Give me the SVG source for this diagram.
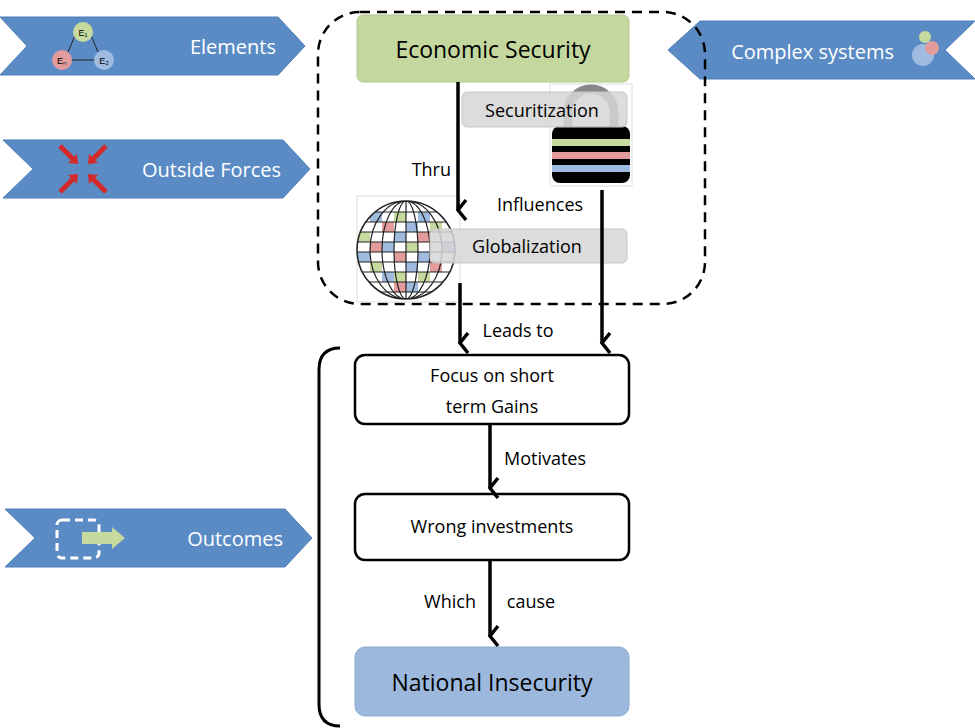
<svg xmlns="http://www.w3.org/2000/svg" width="975" height="728" viewBox="0 0 975 728">
<style>
.chev{fill:#5b8bc4;stroke:#4f7fb8;stroke-width:1}
.ct{font-family:"Open Sans","Liberation Sans",sans-serif;font-size:20px;fill:#fff}
.t{font-family:"Open Sans","Liberation Sans",sans-serif;font-size:18px;fill:#000}
.box{fill:#fff;stroke:#000;stroke-width:2.5}
.conn{stroke:#000;stroke-width:3.5;fill:none}
.lbl{fill:#d6d6d6;fill-opacity:0.85;stroke:#c8c8c8}
</style>
<defs>
<marker id="ah" markerWidth="10" markerHeight="10" refX="5" refY="8" orient="auto" markerUnits="userSpaceOnUse" viewBox="0 0 10 10" overflow="visible">
<polyline points="-5,0 5,8 15,0" transform="translate(0,0)" fill="none" stroke="#000" stroke-width="3.5"/>
</marker>
</defs>
<rect width="975" height="728" fill="#fff"/>

<g id="elements">
<polygon class="chev" points="0,17 278,17 305,46 278,75 0,75 27,46"/>
<line x1="76" y1="33" x2="68" y2="52" stroke="#222" stroke-width="1"/>
<line x1="90" y1="33" x2="98" y2="52" stroke="#222" stroke-width="1"/>
<line x1="70" y1="60" x2="96" y2="60" stroke="#222" stroke-width="1"/>
<circle cx="83" cy="32" r="10" fill="#c6da9f"/><text x="83" y="36" font-family="Liberation Sans,sans-serif" font-size="9" text-anchor="middle">E₁</text>
<circle cx="62" cy="60" r="10" fill="#e39b9b"/><text x="62" y="64" font-family="Liberation Sans,sans-serif" font-size="9" text-anchor="middle">Eₙ</text>
<circle cx="104" cy="60" r="10" fill="#9fbbe0"/><text x="104" y="64" font-family="Liberation Sans,sans-serif" font-size="9" text-anchor="middle">E₂</text>
<text class="ct" x="276" y="54" text-anchor="end">Elements</text>
</g>

<g id="outside-forces">
<polygon class="chev" points="3,140 283,140 310,169 283,198 3,198 33,169"/>
<g stroke="#d42a2a" stroke-width="5">
<line x1="60" y1="146" x2="74" y2="160"/><line x1="106" y1="146" x2="92" y2="160"/>
<line x1="60" y1="192" x2="74" y2="178"/><line x1="106" y1="192" x2="92" y2="178"/>
</g>
<g fill="#d42a2a">
<polygon points="78,164 68,163 77,154"/><polygon points="88,164 98,163 89,154"/>
<polygon points="78,174 68,175 77,184"/><polygon points="88,174 98,175 89,184"/>
</g>
<text class="ct" x="281" y="177" text-anchor="end">Outside Forces</text>
</g>

<g id="complex-systems">
<polygon class="chev" points="975,21 700,21 668,50 700,79 975,79 945,50"/>
<circle cx="923" cy="55" r="11" fill="#9fbbe0"/>
<circle cx="932" cy="48" r="7" fill="#e39b9b"/>
<circle cx="925" cy="37" r="6" fill="#c6da9f"/>
<text class="ct" x="894" y="59" text-anchor="end">Complex systems</text>
</g>

<g id="outcomes">
<polygon class="chev" points="5,509 285,509 312,538 285,567 5,567 35,538"/>
<rect x="57" y="520" width="42" height="38" rx="5" fill="none" stroke="#fff" stroke-width="3" stroke-dasharray="8,5"/>
<polygon points="82,532 112,532 112,527 125,538 112,549 112,544 82,544" fill="#c6da9f"/>
<text class="ct" x="283" y="546" text-anchor="end">Outcomes</text>
</g>

<rect x="318" y="12" width="387" height="292" rx="42" fill="none" stroke="#000" stroke-width="2.5" stroke-dasharray="10,7"/>

<g id="economic-security">
<rect x="357" y="15" width="272" height="67" rx="6" fill="#c4d79e" stroke="#b5c98f"/>
<text x="493" y="58" text-anchor="middle" font-family="Open Sans,Liberation Sans,sans-serif" font-size="23">Economic Security</text>
</g>

<g id="lock">
<rect x="550" y="84" width="82" height="102" fill="#fff" stroke="#ddd"/>
<path d="M568,132 V112 A23,23 0 0 1 614,112 V132" fill="none" stroke="#888" stroke-width="9"/>
<rect x="552" y="126" width="78" height="57" rx="8" fill="#000"/>
<rect x="552" y="139" width="78" height="7" fill="#c6da9f"/>
<rect x="552" y="152" width="78" height="7" fill="#e39b9b"/>
<rect x="552" y="165" width="78" height="7" fill="#9fbbe0"/>
</g>

<g id="securitization">
<rect class="lbl" x="462" y="92" width="165" height="35" rx="5"/>
<text class="t" x="542" y="117" text-anchor="middle">Securitization</text>
</g>

<g id="globe">
<rect x="357" y="196" width="103" height="106" fill="#fff" stroke="#ddd"/>
<clipPath id="gc"><circle cx="406" cy="250" r="49"/></clipPath>
<g clip-path="url(#gc)">
<rect x="357" y="200" width="100" height="100" fill="#fff"/>
<rect x="370" y="212" width="12" height="10" fill="#9fbbe0"/><rect x="394" y="212" width="12" height="10" fill="#c6da9f"/><rect x="418" y="212" width="12" height="10" fill="#9fbbe0"/>
<rect x="382" y="222" width="12" height="10" fill="#e39b9b"/><rect x="406" y="222" width="12" height="10" fill="#9fbbe0"/><rect x="430" y="222" width="12" height="10" fill="#c6da9f"/>
<rect x="358" y="232" width="12" height="10" fill="#c6da9f"/><rect x="394" y="232" width="12" height="10" fill="#9fbbe0"/><rect x="418" y="232" width="12" height="10" fill="#e39b9b"/>
<rect x="370" y="242" width="12" height="10" fill="#e39b9b"/><rect x="382" y="242" width="12" height="10" fill="#9fbbe0"/><rect x="406" y="242" width="12" height="10" fill="#c6da9f"/><rect x="442" y="242" width="12" height="10" fill="#9fbbe0"/>
<rect x="358" y="252" width="12" height="10" fill="#9fbbe0"/><rect x="394" y="252" width="12" height="10" fill="#e39b9b"/><rect x="418" y="252" width="12" height="10" fill="#9fbbe0"/>
<rect x="370" y="262" width="12" height="10" fill="#c6da9f"/><rect x="406" y="262" width="12" height="10" fill="#9fbbe0"/><rect x="430" y="262" width="12" height="10" fill="#e39b9b"/>
<rect x="382" y="272" width="12" height="10" fill="#9fbbe0"/><rect x="394" y="272" width="12" height="10" fill="#c6da9f"/><rect x="418" y="272" width="12" height="10" fill="#c6da9f"/>
<rect x="394" y="282" width="12" height="10" fill="#e39b9b"/><rect x="406" y="282" width="12" height="10" fill="#9fbbe0"/>
<g stroke="#222" stroke-width="1.2" fill="none">
<line x1="350" y1="212" x2="460" y2="212"/><line x1="350" y1="222" x2="460" y2="222"/><line x1="350" y1="232" x2="460" y2="232"/><line x1="350" y1="242" x2="460" y2="242"/><line x1="350" y1="252" x2="460" y2="252"/><line x1="350" y1="262" x2="460" y2="262"/><line x1="350" y1="272" x2="460" y2="272"/><line x1="350" y1="282" x2="460" y2="282"/><line x1="350" y1="292" x2="460" y2="292"/>
<line x1="406" y1="200" x2="406" y2="300"/>
<ellipse cx="406" cy="250" rx="12" ry="49"/><ellipse cx="406" cy="250" rx="24" ry="49"/><ellipse cx="406" cy="250" rx="36" ry="49"/>
</g>
</g>
<circle cx="406" cy="250" r="49" fill="none" stroke="#222" stroke-width="1.5"/>
</g>

<g id="globalization">
<rect class="lbl" x="430" y="229" width="197" height="34" rx="5"/>
<text class="t" x="527" y="253" text-anchor="middle">Globalization</text>
</g>

<g id="focus">
<rect class="box" x="355" y="355" width="274" height="69" rx="10"/>
<text class="t" x="492" y="382" text-anchor="middle">Focus on short</text>
<text class="t" x="492" y="413" text-anchor="middle">term Gains</text>
</g>
<g id="wrong-investments">
<rect class="box" x="355" y="494" width="274" height="66" rx="10"/>
<text class="t" x="492" y="533" text-anchor="middle">Wrong investments</text>
</g>
<g id="national-insecurity">
<rect x="355" y="647" width="274" height="69" rx="10" fill="#9cb9dd" stroke="#8eaad0"/>
<text x="492" y="691" text-anchor="middle" font-family="Open Sans,Liberation Sans,sans-serif" font-size="23">National Insecurity</text>
</g>

<g id="connectors">
<line class="conn" x1="458" y1="82" x2="458" y2="210" marker-end="url(#ah)"/>
<line class="conn" x1="460" y1="283" x2="460" y2="343" marker-end="url(#ah)"/>
<line class="conn" x1="602" y1="190" x2="602" y2="343" marker-end="url(#ah)"/>
<line class="conn" x1="490" y1="424" x2="490" y2="488" marker-end="url(#ah)"/>
<line class="conn" x1="490" y1="560" x2="490" y2="636" marker-end="url(#ah)"/>
<path d="M340,348 Q319,348 319,370 L319,704 Q319,726 340,726" fill="none" stroke="#000" stroke-width="3"/>
<text class="t" x="451" y="176" text-anchor="end">Thru</text>
<text class="t" x="540" y="211" text-anchor="middle">Influences</text>
<text class="t" x="518" y="337" text-anchor="middle">Leads to</text>
<text class="t" x="545" y="465" text-anchor="middle">Motivates</text>
<text class="t" x="450" y="608" text-anchor="middle">Which</text>
<text class="t" x="531" y="608" text-anchor="middle">cause</text>
</g>
</svg>
